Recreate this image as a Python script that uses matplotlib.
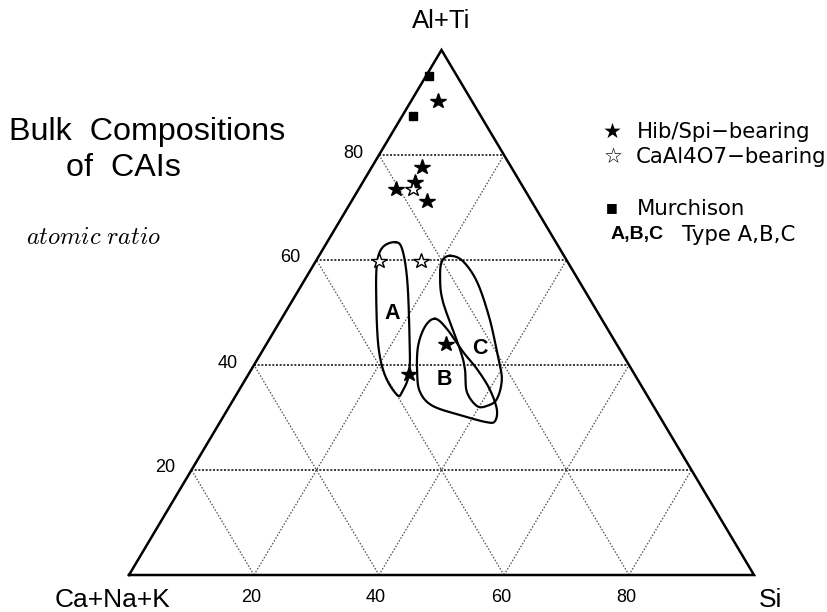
import numpy as np
import matplotlib
matplotlib.use("Agg")
import matplotlib.pyplot as plt

# ---------------- data (ternary, percent: Al+Ti, Si; Ca+Na+K = rest) ----------------
hib_al = [90.3, 77.7, 74.9, 73.5, 71.2, 44.0, 38.3]
hib_si = [4.3, 8.0, 8.3, 6.0, 12.1, 28.7, 25.6]

ca_al = [73.5, 59.8, 59.8]
ca_si = [8.7, 10.1, 16.8]

mur_al = [95.0, 87.4]
mur_si = [0.5, 1.7]

fieldA_al = [63.4, 62.1, 56.4, 46.9, 38.7, 34.9, 34.3, 37.9, 43.6, 53.1, 59.6, 62.5]
fieldA_si = [10.9, 12.65, 16.3, 21.4, 25.5, 26.25, 25.75, 22.05, 18.1, 13.0, 9.9, 9.4]

fieldB_al = [48.8, 46.9, 42.5, 39.2, 35.4, 31.6, 29.3, 29.1, 30.3, 32.2, 34.9, 38.7, 43.6, 47.4]
fieldB_si = [24.6, 27.4, 32.2, 36.1, 40.0, 43.05, 43.9, 42.7, 38.3, 32.5, 29.1, 26.75, 24.45, 23.7]

fieldC_al = [60.8, 59.8, 55.8, 48.8, 41.7, 37.3, 33.5, 32.2, 32.2, 34.9, 39.2, 43.0, 52.0, 56.95, 59.8]
fieldC_si = [20.95, 23.5, 27.8, 33.3, 38.15, 41.0, 42.1, 41.15, 39.56, 36.6, 34.15, 31.45, 24.24, 21.3, 20.2]

field_names = ["A", "B", "C"]
field_lab_al = [49.9, 37.3, 43.2]
field_lab_si = [17.1, 31.75, 34.55]

grid_ticks = [20, 40, 60, 80]
vertex_labels = ["Ca+Na+K", "Si", "Al+Ti"]


def tern(al, si):
    al = np.asarray(al, float)
    si = np.asarray(si, float)
    return si + al / 2.0, al


def closed_spline(x, y, n=20):
    # closed Catmull-Rom spline
    P = np.column_stack([x, y])
    m = len(P)
    out = []
    for i in range(m):
        p0, p1, p2, p3 = P[(i - 1) % m], P[i], P[(i + 1) % m], P[(i + 2) % m]
        t = np.linspace(0, 1, n, endpoint=False)[:, None]
        pts = 0.5 * ((2 * p1) + (-p0 + p2) * t + (2 * p0 - 5 * p1 + 4 * p2 - p3) * t ** 2
                     + (-p0 + 3 * p1 - 3 * p2 + p3) * t ** 3)
        out.append(pts)
    out = np.vstack(out)
    out = np.vstack([out, out[:1]])
    return out[:, 0], out[:, 1]


plt.rcParams["mathtext.fontset"] = "cm"

fig = plt.figure(figsize=(8.28, 6.12), dpi=100)
ax = fig.add_axes([129 / 828, (612 - 575) / 612, (754 - 129) / 828, 525 / 612])
ax.set_xlim(0, 100)
ax.set_ylim(0, 100)
ax.axis("off")

# grid
for g in grid_ticks:
    # horizontal (constant Al)
    x0, y0 = tern(g, 0)
    x1, y1 = tern(g, 100 - g)
    ax.plot([x0, x1], [y0, y1], color="0.1", lw=1.2, ls=(0, (1.2, 1.0)), zorder=1)
    # constant Si (parallel to left edge)
    x0, y0 = tern(0, g)
    x1, y1 = tern(100 - g, g)
    ax.plot([x0, x1], [y0, y1], color="0.3", lw=0.9, ls=(0, (1.2, 1.4)), zorder=1)
    # constant Ca (parallel to right edge)
    x0, y0 = tern(0, 100 - g)
    x1, y1 = tern(100 - g, 0)
    ax.plot([x0, x1], [y0, y1], color="0.3", lw=0.9, ls=(0, (1.2, 1.4)), zorder=1)

# frame
fx, fy = tern([0, 0, 100, 0], [0, 100, 0, 0])
ax.plot(fx, fy, color="black", lw=1.8, solid_joinstyle="miter", zorder=3, clip_on=False)

# fields
for fal, fsi in [(fieldA_al, fieldA_si), (fieldB_al, fieldB_si), (fieldC_al, fieldC_si)]:
    x, y = tern(fal, fsi)
    sx, sy = closed_spline(x, y)
    ax.plot(sx, sy, color="black", lw=1.6, zorder=4)

for name, a, s in zip(field_names, field_lab_al, field_lab_si):
    x, y = tern(a, s)
    ax.text(x, y, name, ha="center", va="center", fontsize=15.5, fontweight="bold",
            family="Liberation Sans", zorder=6)

# points
x, y = tern(hib_al, hib_si)
ax.plot(x, y, ls="none", marker="*", ms=11.5, color="black", zorder=7, clip_on=False)
x, y = tern(ca_al, ca_si)
ax.plot(x, y, ls="none", marker="*", ms=11.5, mfc="white", mec="black", mew=1.0, zorder=7, clip_on=False)
x, y = tern(mur_al, mur_si)
ax.plot(x, y, ls="none", marker="s", ms=6, color="black", zorder=7, clip_on=False)

# vertex labels
x, y = tern(0, 0)
ax.annotate(vertex_labels[0], (x, y), xytext=(-16, -25), textcoords="offset pixels",
            ha="center", va="center", annotation_clip=False, family="Liberation Sans", fontsize=19)
x, y = tern(0, 100)
ax.annotate(vertex_labels[1], (x, y), xytext=(17, -25), textcoords="offset pixels",
            ha="center", va="center", annotation_clip=False, family="Liberation Sans", fontsize=19)
x, y = tern(100, 0)
ax.annotate(vertex_labels[2], (x, y), xytext=(0, 29), textcoords="offset pixels",
            ha="center", va="center", annotation_clip=False, family="Liberation Sans", fontsize=18.5)

# tick labels
tfont = dict(family="Liberation Sans", fontsize=13)
for g in grid_ticks:
    x, y = tern(0, g)
    ax.annotate(str(g), (x, y), xytext=(-3, -23), textcoords="offset pixels",
                ha="center", va="center", annotation_clip=False, **tfont)
    x, y = tern(g, 0)
    ax.annotate(str(g), (x, y), xytext=(-16, 2), textcoords="offset pixels",
                ha="right", va="center", annotation_clip=False, **tfont)

# title texts
fig.text(9 / 828, 1 - 132 / 612, "Bulk  Compositions", family="Liberation Sans",
         fontsize=23.2, ha="left", va="center")
fig.text(66 / 828, 1 - 168 / 612, "of  CAIs", family="Liberation Sans",
         fontsize=23.2, ha="left", va="center")
fig.text(26 / 828, 1 - 237 / 612, r"$atomic\ ratio$", fontsize=17.5, ha="left", va="center")

# legend
lfont = dict(family="DejaVu Sans", fontsize=15.3, va="center")
fig.text(612 / 828, 1 - 132 / 612, "★", ha="center", **lfont)
fig.text(637 / 828, 1 - 132 / 612, "Hib/Spi\u2212bearing", ha="left", **lfont)
fig.text(613 / 828, 1 - 157 / 612, "☆", ha="center", **lfont)
fig.text(636 / 828, 1 - 157 / 612, "CaAl4O7\u2212bearing", ha="left", **lfont)
fig.text(612 / 828, 1 - 208 / 612, "■", ha="center", family="DejaVu Sans", fontsize=9, va="center")
fig.text(637 / 828, 1 - 209 / 612, "Murchison", ha="left", **lfont)
fig.text(611 / 828, 1 - 235 / 612, "A,B,C", ha="left", family="Liberation Sans",
         fontsize=14, fontweight="bold", va="center")
fig.text(682 / 828, 1 - 235 / 612, "Type A,B,C", ha="left", **lfont)

fig.savefig("out.png", dpi=100)
